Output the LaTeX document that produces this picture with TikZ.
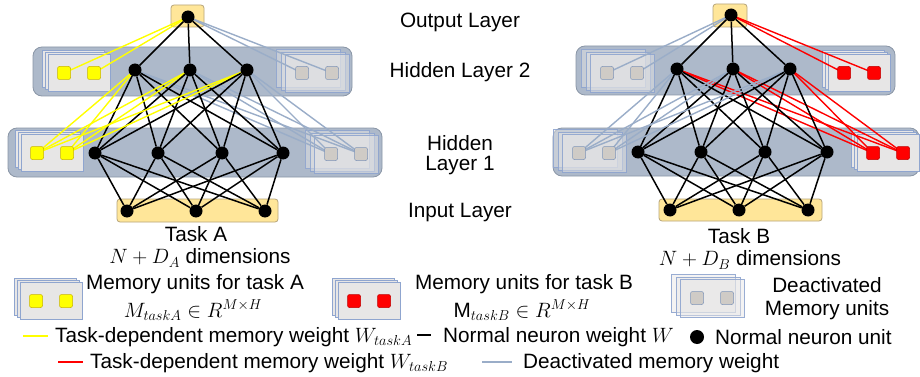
\documentclass[tikz,border=0pt]{standalone}
\usepackage{fontspec}
\setmainfont{Liberation Sans}
\usetikzlibrary{backgrounds}
\definecolor{bandfill}{HTML}{ADB9CA}
\definecolor{banddraw}{HTML}{8A96A6}
\definecolor{iofill}{HTML}{FFE699}
\definecolor{iodraw}{HTML}{B7A57A}
\definecolor{memfill}{HTML}{E7E6E6}
\definecolor{memdraw}{HTML}{8FA5CF}
\definecolor{ylw}{HTML}{FFFF00}
\definecolor{ylwdraw}{HTML}{C8B400}
\definecolor{rd}{HTML}{FF0000}
\definecolor{rddraw}{HTML}{C00000}
\definecolor{gsq}{HTML}{CFCBC6}
\definecolor{gsqdraw}{HTML}{7F95B8}
\definecolor{deact}{HTML}{9AADC8}
\pgfdeclarelayer{back}
\pgfdeclarelayer{mid}
\pgfsetlayers{back,mid,main}
\tikzset{
  band/.style={fill=bandfill, draw=banddraw, rounded corners=9pt, line width=0.8pt},
  iobox/.style={fill=iofill, draw=iodraw, rounded corners=3pt, line width=0.8pt},
  neuron/.style={circle, fill=black, inner sep=0pt, minimum size=13pt},
  memact/.style={fill=memfill, draw=memdraw, line width=0.6pt},
  memdeact/.style={fill=memfill, fill opacity=0.45, draw=memdraw, draw opacity=0.9, line width=0.6pt},
  sqbase/.style={rectangle, rounded corners=2pt, minimum size=13pt, inner sep=0pt, line width=0.5pt},
  ysq/.style={sqbase, fill=ylw, draw=ylwdraw},
  rsq/.style={sqbase, fill=rd, draw=rddraw},
  gysq/.style={sqbase, fill=gsq, draw=gsqdraw},
  wblack/.style={black, line width=1.5pt},
  wyellow/.style={ylw, line width=1.4pt},
  wred/.style={rd, line width=1.4pt},
  wdeact/.style={deact, line width=1.4pt},
  lbl/.style={font=\huge, inner sep=0pt},
}
% active memory stack: name, x, y
\newcommand{\actstack}[3]{%
  \begin{scope}[shift={(#2,#3)}]
    \draw[memact] (-37,-22.5) rectangle (25,14.5);
    \draw[memact] (-34,-20.5) rectangle (28,16.5);
    \draw[memact] (-31,-18.5) rectangle (31,18.5);
    \coordinate (#1a) at (-15,0);
    \coordinate (#1b) at (15,0);
  \end{scope}}
% deactivated memory stack: name, x, y
\newcommand{\deactstack}[3]{%
  \begin{scope}[shift={(#2,#3)}]
    \draw[memdeact] (-41,-23.5) rectangle (23,14.5);
    \draw[memdeact] (-36,-21) rectangle (28,17);
    \draw[memdeact] (-32,-19) rectangle (32,19);
    \coordinate (#1a) at (-15,0);
    \coordinate (#1b) at (15,0);
  \end{scope}}
\begin{document}
\begin{tikzpicture}[x=1pt, y=-1pt]
\useasboundingbox (0,0) rectangle (920,377);

% ---------------- background layer: bands, io boxes, memory boxes
\begin{pgfonlayer}{back}
  \fill[white] (0,0) rectangle (920,377);
  % left network
  \draw[band] (33,47) rectangle (352,96);
  \draw[band] (8,128) rectangle (382,177);
  \draw[iobox] (171,5) rectangle (204,27);
  \draw[iobox] (117,199) rectangle (278,222);
  \actstack{mAtwo}{79}{73}
  \deactstack{dAtwo}{317}{73}
  \actstack{mAone}{52}{153}
  \deactstack{dAone}{346}{154}
  % right network
  \draw[band] (576,46) rectangle (895,95);
  \draw[band] (553,128) rectangle (919,176);
  \draw[iobox] (713,4) rectangle (747,27);
  \draw[iobox] (659,199) rectangle (822,221);
  \deactstack{dBtwo}{622}{73}
  \actstack{mBtwo}{859}{73}
  \deactstack{dBone}{594}{153}
  \actstack{mBone}{888}{153}
  % legend icons
  \actstack{mLA}{51}{301}
  \actstack{mLB}{369}{301}
  \deactstack{dL}{712}{298}
\end{pgfonlayer}

% ---------------- neurons (main layer)
\node[neuron] (oA) at (188,17) {};
\node[neuron] (hA1) at (135,70) {};
\node[neuron] (hA2) at (190,70) {};
\node[neuron] (hA3) at (247,70) {};
\node[neuron] (iA1) at (95,153) {};
\node[neuron] (iA2) at (158,153) {};
\node[neuron] (iA3) at (222,153) {};
\node[neuron] (iA4) at (283,153) {};
\node[neuron] (nA1) at (127,211) {};
\node[neuron] (nA2) at (196,211) {};
\node[neuron] (nA3) at (265,211) {};

\node[neuron] (oB) at (731,15) {};
\node[neuron] (hB1) at (677,69) {};
\node[neuron] (hB2) at (733,69) {};
\node[neuron] (hB3) at (790,69) {};
\node[neuron] (iB1) at (638,152) {};
\node[neuron] (iB2) at (701,152) {};
\node[neuron] (iB3) at (765,152) {};
\node[neuron] (iB4) at (827,152) {};
\node[neuron] (nB1) at (670,210) {};
\node[neuron] (nB2) at (739,210) {};
\node[neuron] (nB3) at (808,210) {};

% memory squares
\foreach \m in {mAtwo,mAone,mLA}{\node[ysq] at (\m a) {}; \node[ysq] at (\m b) {};}
\foreach \m in {mBtwo,mBone,mLB}{\node[rsq] at (\m a) {}; \node[rsq] at (\m b) {};}
\foreach \m in {dAtwo,dAone,dBtwo,dBone,dL}{\node[gysq] at (\m a) {}; \node[gysq] at (\m b) {};}

% ---------------- connectors (middle layer)
\begin{pgfonlayer}{mid}
  % left network
  \foreach \h in {hA1,hA2,hA3}{\draw[wblack] (oA) -- (\h);}
  \foreach \s in {mAtwoa,mAtwob}{\draw[wyellow] (oA.center) -- (\s);}
  \foreach \s in {dAtwoa,dAtwob}{\draw[wdeact] (oA.center) -- (\s);}
  \foreach \h in {hA1,hA2,hA3}{
    \foreach \s in {mAonea,mAoneb}{\draw[wyellow] (\h.center) -- (\s);}
    \foreach \s in {dAonea,dAoneb}{\draw[wdeact] (\h.center) -- (\s);}
    \foreach \i in {iA1,iA2,iA3,iA4}{\draw[wblack] (\h) -- (\i);}
  }
  \foreach \i in {iA1,iA2,iA3,iA4}{\foreach \n in {nA1,nA2,nA3}{\draw[wblack] (\i) -- (\n);}}
  % right network
  \foreach \h in {hB1,hB2,hB3}{\draw[wblack] (oB) -- (\h);}
  \foreach \s in {mBtwoa,mBtwob}{\draw[wred] (oB.center) -- (\s);}
  \foreach \s in {dBtwoa,dBtwob}{\draw[wdeact] (oB.center) -- (\s);}
  \foreach \h in {hB1,hB2,hB3}{
    \foreach \s in {mBonea,mBoneb}{\draw[wred] (\h.center) -- (\s);}
    \foreach \s in {dBonea,dBoneb}{\draw[wdeact] (\h.center) -- (\s);}
    \foreach \i in {iB1,iB2,iB3,iB4}{\draw[wblack] (\h) -- (\i);}
  }
  \foreach \i in {iB1,iB2,iB3,iB4}{\foreach \n in {nB1,nB2,nB3}{\draw[wblack] (\i) -- (\n);}}
\end{pgfonlayer}

% ---------------- layer labels
\node[lbl] (tout) at (460,22) {Output Layer};
\node[lbl] (th2) at (460,72) {Hidden Layer 2};
\node[lbl] (th1a) at (460,143) {Hidden};
\node[lbl] (th1b) at (460,166) {Layer 1};
\node[lbl] (tin) at (460,213) {Input Layer};

\node[lbl] (tA) at (196,234) {Task A};
\node[lbl] (dimA) at (200,258) {$N+D_A$ dimensions};
\node[lbl] (tB) at (739,236) {Task B};
\node[lbl] (dimB) at (750,260) {$N+D_B$ dimensions};

% ---------------- legend
\node[lbl] (lmA) at (195,284) {Memory units for task A};
\node[lbl] (lmA2) at (193,310) {$M_{taskA}\in R^{M\times H}$};
\node[lbl] (lmB) at (524,284) {Memory units for task B};
\node[lbl] (lmB2) at (522,310) {$\mathrm{M}_{taskB}\in R^{M\times H}$};
\node[lbl] (ld1) at (827,285) {Deactivated};
\node[lbl] (ld2) at (827,310) {Memory units};

\coordinate (ly1) at (23,336);
\coordinate (ly2) at (48,336);
\draw[wyellow] (ly1) -- (ly2);
\node[lbl, anchor=west] (lyt) at (55,337) {Task-dependent memory weight $W_{taskA}$};
\coordinate (lk1) at (417,335);
\coordinate (lk2) at (431,335);
\draw[black, line width=1.5pt] (lk1) -- (lk2);
\node[lbl, anchor=west] (lkt) at (443,337) {Normal neuron weight $W$};
\node[neuron, minimum size=14pt] (ldot) at (697,337) {};
\node[lbl, anchor=west] (ldt) at (715,337) {Normal neuron unit};

\coordinate (lr1) at (58,362);
\coordinate (lr2) at (83,362);
\draw[wred] (lr1) -- (lr2);
\node[lbl, anchor=west] (lrt) at (90,363) {Task-dependent memory weight $W_{taskB}$};
\coordinate (lg1) at (482,362);
\coordinate (lg2) at (512,362);
\draw[wdeact] (lg1) -- (lg2);
\node[lbl, anchor=west] (lgt) at (523,363) {Deactivated memory weight};
\end{tikzpicture}
\end{document}
